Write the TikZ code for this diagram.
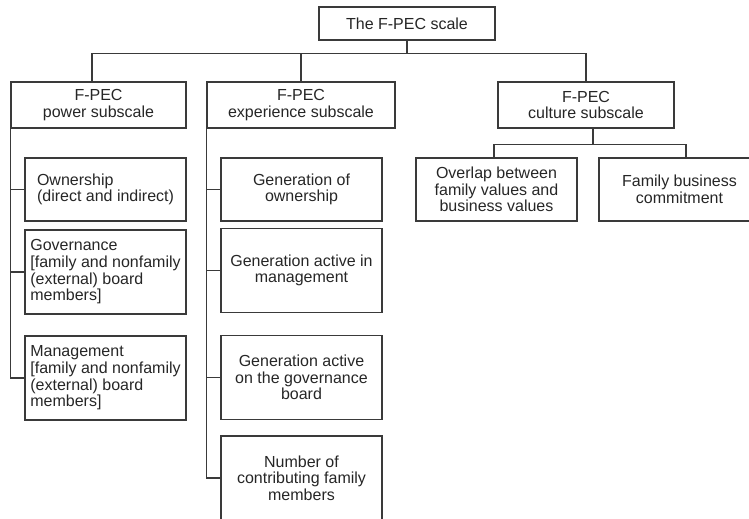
\documentclass[tikz,border=0pt]{standalone}
\usepackage{fontspec}
\setmainfont{Liberation Sans}
\usepackage{xcolor}
\usetikzlibrary{positioning}
\definecolor{cInk}{HTML}{262626}
\definecolor{cRule}{HTML}{3A3A3A}
\tikzset{
  base/.style={draw=cRule,line width=1pt,text=cInk,font=\fontsize{12}{12.5}\selectfont,inner sep=2pt},
  topbox/.style={base,align=center,minimum width=132pt,minimum height=24.75pt},
  subbox/.style={base,align=center,minimum width=#1,minimum height=34.5pt},
  leaf/.style={base,align=center,minimum width=120.75pt,minimum height=#1},
  leaf/.default=63pt,
  conn/.style={draw=cRule,line width=1pt},
}
\begin{document}
\begin{tikzpicture}[x=0.75pt,y=-0.75pt]
  \useasboundingbox (0,0) rectangle (749,518);
  \clip (0,0) rectangle (749,518);
  % scale and subscales
  \node[topbox] (scale) at (407,23.5) {The F-PEC scale};
  \node[subbox=131.25pt] (power) at (98.5,105) {F-PEC\\power subscale};
  \node[subbox=141pt] (exper) at (301,105) {F-PEC\\experience subscale};
  \node[subbox=132pt] (culture) at (586,105) {F-PEC\\culture subscale};
  % power items
  \node[leaf=47.25pt,align=left] (own) at (105.5,189.5) {Ownership\\(direct and indirect)};
  \node[leaf,align=left] (gov) at (105.5,272) {Governance\\{[family and nonfamily}\\(external) board\\members]};
  \node[leaf,align=left] (mgmt) at (105.5,378) {Management\\{[family and nonfamily}\\(external) board\\members]};
  % experience items
  \node[leaf=47.25pt] (genown) at (301.5,189.5) {Generation of\\ownership};
  \node[leaf] (genmgmt) at (301.5,270.5) {Generation active in\\management};
  \node[leaf] (genboard) at (301.5,377.5) {Generation active\\on the governance\\board};
  \node[leaf] (number) at (301.5,478) {Number of\\contributing family\\members};
  % culture items
  \node[leaf=47.25pt] (overlap) at (496.5,189.5) {Overlap between\\family values and\\business values};
  \node[leaf=47.25pt] (commit) at (679.5,189.5) {Family business\\commitment};
  % tree lines
  \draw[conn] (scale.south) -- ++(0,13) coordinate (split);
  \draw[conn] ([xshift=-4.9pt]power.north) |- (split) -| (culture.north);
  \draw[conn] (split -| exper.north) -- (exper.north);
  \draw[conn] (power.south west) |- (mgmt.west);
  \foreach \n in {own,gov}
    \draw[conn] (power.south west |- \n.west) -- (\n.west);
  \draw[conn] (exper.south west) |- (number.west);
  \foreach \n in {genown,genmgmt,genboard}
    \draw[conn] (exper.south west |- \n.west) -- (\n.west);
  \draw[conn] ([xshift=5.25pt]culture.south) -- ++(0,16) coordinate (csplit);
  \draw[conn] ([xshift=-1.9pt]overlap.north) |- (csplit) -| ([xshift=4.9pt]commit.north);
\end{tikzpicture}
\end{document}
